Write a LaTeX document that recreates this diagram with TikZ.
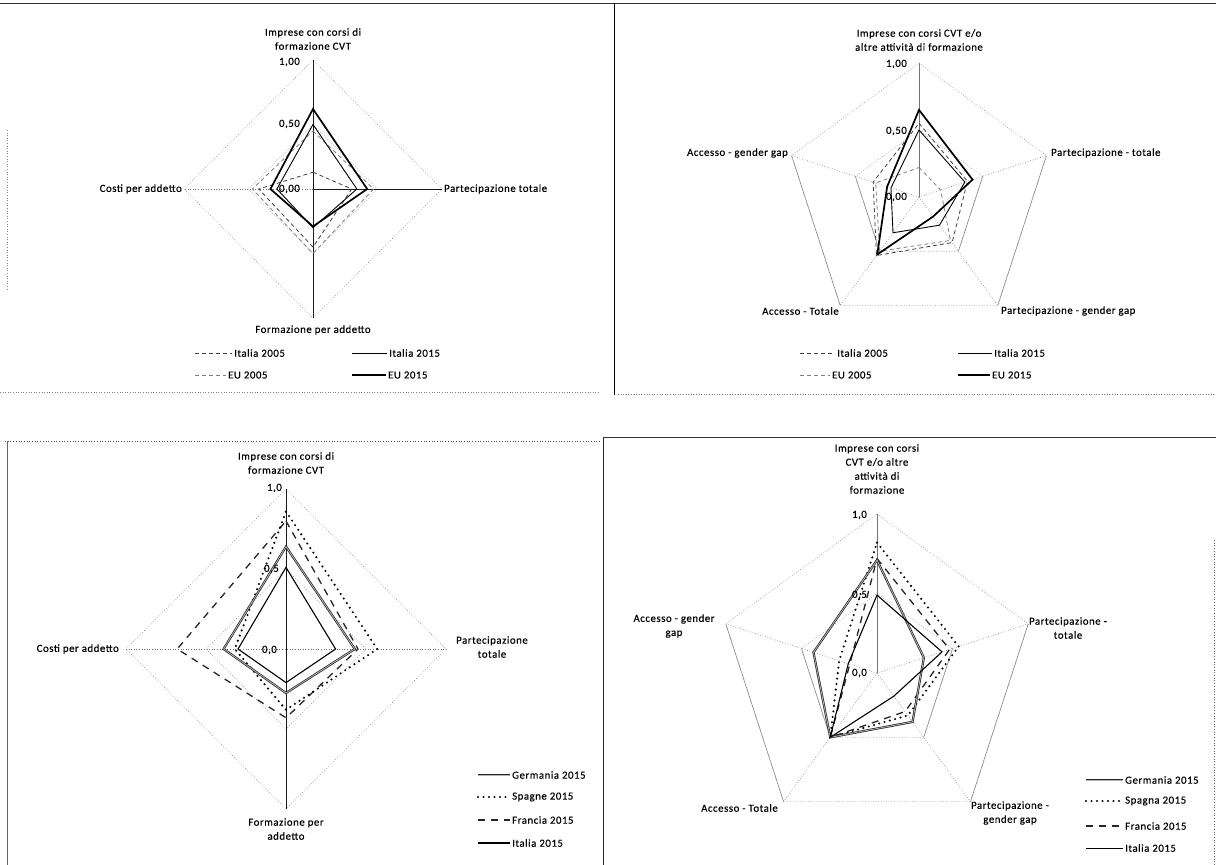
\documentclass[tikz,border=0pt]{standalone}
\usepackage{fontspec}
\setmainfont{Carlito}[LetterSpace=5,FakeBold=0.35]
\tikzset{
  lbl/.style={font=\fontsize{10.8}{14}\selectfont, inner sep=1pt, text=black},
  gridl/.style={draw=black!50, dotted, line width=0.6pt},
  gridsolid/.style={draw=black!45, line width=0.6pt},
  axisl/.style={draw=black!90, line width=0.7pt},
  axisgray/.style={draw=black!55, line width=0.6pt},
  axisdot/.style={draw=black!55, dotted, line width=0.6pt},
  ita05/.style={draw=black!75, dash pattern=on 4pt off 3pt, line width=0.8pt},
  eu05/.style={draw=black!50, dash pattern=on 4pt off 3pt, line width=0.8pt},
  ita15/.style={draw=black, line width=0.9pt},
  eu15/.style={draw=black, line width=1.7pt},
  ger/.style={draw=black!85, double=black!30, double distance=0.8pt, line width=0.7pt},
  spa/.style={draw=black, line width=2.3pt, dash pattern=on 0pt off 5.5pt, line cap=round},
  fra/.style={draw=black!85, line width=1.3pt, dash pattern=on 7pt off 6pt},
  itaB/.style={draw=black, line width=1.1pt},
}
\newcommand{\radarfour}[5]{\draw[#1] (90:{#2*\RR}) -- (0:{#3*\RR}) -- (-90:{#4*\RR}) -- (180:{#5*\RR}) -- cycle;}
\newcommand{\radarfive}[6]{\draw[#1] (90:{#2*\RR}) -- (18:{#3*\RR}) -- (-54:{#4*\RR}) -- (-126:{#5*\RR}) -- (162:{#6*\RR}) -- cycle;}
\begin{document}
\begin{tikzpicture}[x=1pt,y=-1pt]
\fill[white] (0,0) rectangle (1216,865);
\useasboundingbox (0,0) rectangle (1216,865);

% ---------- panel borders ----------
\draw[black!80, line width=0.6pt] (0,3) -- (1216,3);
\draw[black, line width=1pt] (614,3) -- (614,395);
\draw[black!50, dotted, line width=0.6pt] (0,392) -- (600,392);
\draw[black!50, dotted, line width=0.6pt] (7,130) -- (7,290);
\draw[black!50, dotted, line width=0.6pt] (618,394) -- (1216,394);
\draw[black!70, dotted, line width=0.7pt] (5,441) -- (600,441);
\draw[black!60, line width=1pt] (7,441) -- (7,865);
\draw[black!85, line width=0.8pt] (603,437) -- (603,865);
\draw[black!80, line width=0.6pt] (603,437) -- (1216,437);
\draw[black!60, dotted, line width=0.7pt] (1214,540) -- (1214,865);

% ---------- chart 1 ----------
\begin{scope}[shift={(313,189)},yscale=-1]
 \def\RR{129}
 \radarfour{gridl}{1}{1}{1}{1}
 \radarfour{gridl}{0.5}{0.5}{0.5}{0.5}
 \draw[axisl] (90:\RR) -- (-90:\RR);
 \draw[axisl] (0,0) -- (0:\RR);
 \draw[axisdot] (0,0) -- (180:\RR);
 \radarfour{eu05}{0.45}{0.47}{0.50}{0.47}
 \radarfour{ita05}{0.13}{0.30}{0.45}{0.42}
 \radarfour{ita15}{0.50}{0.34}{0.30}{0.28}
 \radarfour{eu15}{0.62}{0.42}{0.29}{0.33}
\end{scope}
\node[lbl,align=center] (t1) at (313,39) {Imprese con corsi di\\formazione CVT};
\node[lbl,anchor=east] (t1a) at (301,62) {1,00};
\node[lbl,anchor=east] (t1b) at (301,124) {0,50};
\node[lbl,anchor=east] (t1c) at (301,189) {0,00};
\node[lbl,anchor=west] (t1d) at (443,189) {Partecipazione totale};
\node[lbl,anchor=east] (t1e) at (183,189) {Costi per addetto};
\node[lbl] (t1f) at (313,330) {Formazione per addetto};
\draw[ita05] (195,353) -- (232,353); \node[lbl,anchor=west] (l1a) at (233,353) {Italia 2005};
\draw[ita15] (352,353) -- (387,353); \node[lbl,anchor=west] (l1b) at (388,353) {Italia 2015};
\draw[eu05] (195,375) -- (226,375); \node[lbl,anchor=west] (l1c) at (227,375) {EU 2005};
\draw[eu15] (352,375) -- (386,375); \node[lbl,anchor=west] (l1d) at (387,375) {EU 2015};

% ---------- chart 2 ----------
\begin{scope}[shift={(919,197)},yscale=-1]
 \def\RR{134}
 \radarfive{gridl}{1}{1}{1}{1}{1}
 \draw[gridsolid] (18:\RR) -- (-54:\RR);
 \draw[gridsolid] (162:\RR) -- (-126:\RR);
 \radarfive{gridl}{0.5}{0.5}{0.5}{0.5}{0.5}
 \draw[gridsolid] (18:0.5*\RR) -- (-54:0.5*\RR);
 \draw[gridsolid] (162:0.5*\RR) -- (-126:0.5*\RR);
 \draw[axisgray] (0,0) -- (90:\RR);
 \foreach \a in {18,-54,-126,162} \draw[axisdot] (0,0) -- (\a:\RR);
 \radarfive{eu05}{0.22}{0.17}{0.40}{0.50}{0.34}
 \radarfive{ita05}{0.55}{0.38}{0.42}{0.54}{0.36}
 \radarfive{ita15}{0.50}{0.36}{0.26}{0.33}{0.22}
 \radarfive{eu15}{0.65}{0.42}{0.18}{0.53}{0.25}
\end{scope}
\node[lbl,align=center] (t2) at (919,40) {Imprese con corsi CVT e/o\\altre attività di formazione};
\node[lbl,anchor=east] (t2a) at (908,64) {1,00};
\node[lbl,anchor=east] (t2b) at (908,131) {0,50};
\node[lbl,anchor=east] (t2c) at (908,197) {0,00};
\node[lbl,anchor=west] (t2d) at (1050,153) {Partecipazione - totale};
\node[lbl,anchor=east] (t2e) at (789,153) {Accesso - gender gap};
\node[lbl,anchor=west] (t2f) at (1000,311) {Partecipazione - gender gap};
\node[lbl,anchor=east] (t2g) at (840,311) {Accesso - Totale};
\draw[ita05] (800,353) -- (835,353); \node[lbl,anchor=west] (l2a) at (836,353) {Italia 2005};
\draw[ita15] (958,353) -- (992,353); \node[lbl,anchor=west] (l2b) at (993,353) {Italia 2015};
\draw[eu05] (800,375) -- (830,375); \node[lbl,anchor=west] (l2c) at (831,375) {EU 2005};
\draw[eu15] (958,375) -- (990,375); \node[lbl,anchor=west] (l2d) at (991,375) {EU 2015};

% ---------- chart 3 ----------
\begin{scope}[shift={(286,649)},yscale=-1]
 \def\RR{160}
 \radarfour{gridl}{1}{1}{1}{1}
 \radarfour{gridl}{0.5}{0.5}{0.5}{0.5}
 \draw[axisl] (90:\RR) -- (-90:\RR);
 \draw[axisdot] (180:\RR) -- (0:\RR);
 \radarfour{fra}{0.80}{0.45}{0.43}{0.68}
 \radarfour{spa}{0.86}{0.57}{0.38}{0.32}
 \radarfour{ger}{0.64}{0.43}{0.275}{0.39}
 \radarfour{itaB}{0.51}{0.31}{0.21}{0.30}
\end{scope}
\node[lbl,align=center] (t3) at (286,463) {Imprese con corsi di\\formazione CVT};
\node[lbl,anchor=east] (t3a) at (283,488) {1,0};
\node[lbl,anchor=east] (t3b) at (280,569) {0,5};
\node[lbl,anchor=east] (t3c) at (278,650) {0,0};
\node[lbl,align=center] (t3d) at (492,647) {Partecipazione\\totale};
\node[lbl,anchor=east] (t3e) at (120,649) {Costi per addetto};
\node[lbl,align=center] (t3f) at (286,829) {Formazione per\\addetto};
\draw[ger] (478,775) -- (510,775); \node[lbl,anchor=west] (l3a) at (511,775) {Germania 2015};
\draw[spa] (478,797) -- (510,797); \node[lbl,anchor=west] (l3b) at (511,797) {Spagne 2015};
\draw[fra] (478,820) -- (510,820); \node[lbl,anchor=west] (l3c) at (511,820) {Francia 2015};
\draw[itaB, line width=1.5pt] (478,843) -- (510,843); \node[lbl,anchor=west] (l3d) at (511,843) {Italia 2015};

% ---------- chart 4 ----------
\begin{scope}[shift={(877,673)},yscale=-1]
 \def\RR{159}
 \radarfive{gridl}{1}{1}{1}{1}{1}
 \draw[gridsolid] (18:\RR) -- (-54:\RR);
 \draw[gridsolid] (162:\RR) -- (-126:\RR);
 \radarfive{gridl}{0.5}{0.5}{0.5}{0.5}{0.5}
 \draw[gridsolid] (18:0.5*\RR) -- (-54:0.5*\RR);
 \draw[gridsolid] (162:0.5*\RR) -- (-126:0.5*\RR);
 \draw[axisgray] (0,0) -- (90:\RR);
 \foreach \a in {18,-54,-126,162} \draw[axisdot] (0,0) -- (\a:\RR);
 \radarfive{fra}{0.72}{0.48}{0.30}{0.50}{0.18}
 \radarfive{spa}{0.82}{0.54}{0.33}{0.50}{0.25}
 \radarfive{ger}{0.71}{0.31}{0.38}{0.50}{0.42}
 \radarfive{itaB}{0.49}{0.43}{0.18}{0.50}{0.19}
\end{scope}
\node[lbl,align=center] (t4) at (877,469) {Imprese con corsi\\CVT e/o altre\\attività di\\formazione};
\node[lbl,anchor=east] (t4a) at (868,515) {1,0};
\node[lbl,anchor=east] (t4b) at (868,595) {0,5};
\node[lbl,anchor=east] (t4c) at (868,673) {0,0};
\node[lbl,align=center] (t4d) at (1068,628) {Partecipazione -\\totale};
\node[lbl,align=center] (t4e) at (674,626) {Accesso - gender\\gap};
\node[lbl,anchor=east] (t4f) at (779,808) {Accesso - Totale};
\node[lbl,align=center] (t4g) at (1010,813) {Partecipazione -\\gender gap};
\draw[ger] (1086,780) -- (1123,780); \node[lbl,anchor=west] (l4a) at (1124,780) {Germania 2015};
\draw[spa] (1086,801) -- (1123,801); \node[lbl,anchor=west] (l4b) at (1124,801) {Spagna 2015};
\draw[fra] (1086,826) -- (1123,826); \node[lbl,anchor=west] (l4c) at (1124,826) {Francia 2015};
\draw[itaB, line width=0.7pt] (1086,848) -- (1123,848); \node[lbl,anchor=west] (l4d) at (1124,848) {Italia 2015};
\end{tikzpicture}
\end{document}
